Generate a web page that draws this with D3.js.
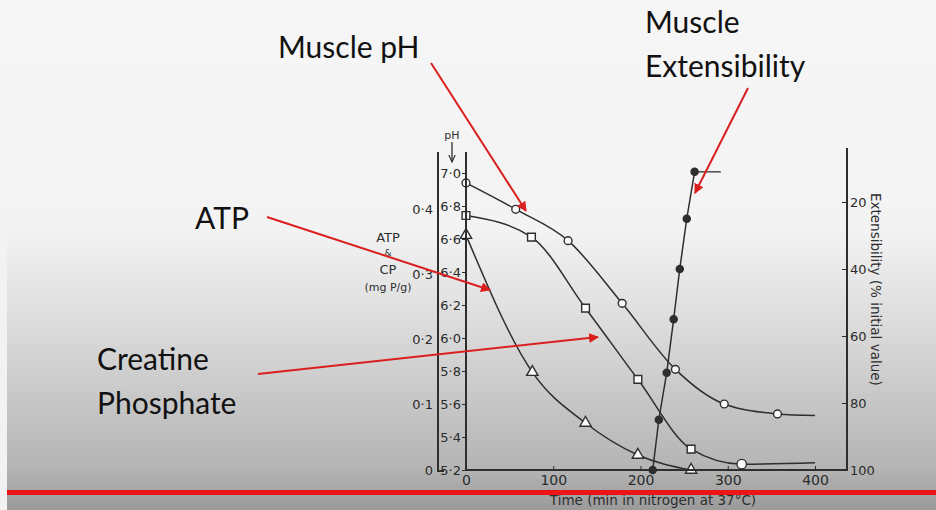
<!DOCTYPE html>
<html>
<head>
<meta charset="utf-8">
<script src="https://cdn.jsdelivr.net/npm/d3@7"></script>
<style>
  html, body { margin: 0; padding: 0; background: #f5f5f5; }
  svg { display: block; }
  .tick text { font-family: "DejaVu Sans", sans-serif; fill: #2b2b2b; }
  .tick line { stroke: #2b2b2b; }
</style>
</head>
<body>
<div id="container"></div>
<script>
// time (min) for each curve
const phTime = [0, 57, 117, 179, 240, 296, 357, 400];
const phValue = [6.94, 6.78, 6.59, 6.21, 5.81, 5.60, 5.54, 5.53];

const cpTime = [0, 75, 137, 197, 258, 316, 400];
const cpValue = [0.39, 0.357, 0.248, 0.139, 0.032, 0.009, 0.011];

const atpTime = [0, 76, 137, 197, 258];
const atpValue = [0.36, 0.15, 0.072, 0.023, 0.0];

const extTime = [214, 221, 230, 238, 245, 253, 262];
const extValue = [100, 85, 71, 55, 40, 25, 11];
const extStubEnd = 292;

const timeTicks = [0, 100, 200, 300, 400];
const phTicks = [5.2, 5.4, 5.6, 5.8, 6.0, 6.2, 6.4, 6.6, 6.8, 7.0];
const mgTicks = [0, 0.1, 0.2, 0.3, 0.4];
const extTicks = [20, 40, 60, 80, 100];

const notes = [
  { lines: ['Muscle pH'], x: 278, y: 58, from: [431, 63], to: [526, 211] },
  { lines: ['Muscle', 'Extensibility'], x: 645, y: 33, from: [748, 88], to: [695, 193] },
  { lines: ['ATP'], x: 195, y: 229, from: [267, 217], to: [490, 290] },
  { lines: ['Creatine', 'Phosphate'], x: 97, y: 370, from: [258, 374], to: [598, 337] }
];

const width = 936, height = 510;
const ink = '#2e2e2e';
const red = '#d9201f';

const svg = d3.select('#container').append('svg')
  .attr('width', width)
  .attr('height', height);

const defs = svg.append('defs');
const bg = defs.append('linearGradient')
  .attr('id', 'bg')
  .attr('x1', 0).attr('y1', 0).attr('x2', 0).attr('y2', 1);
[[0, '#f6f6f6'], [0.45, '#f3f3f3'], [0.62, '#dedede'], [0.92, '#b4b4b4'], [1, '#9a9a9a']]
  .forEach(s => bg.append('stop').attr('offset', s[0]).attr('stop-color', s[1]));

defs.append('marker')
  .attr('id', 'head')
  .attr('viewBox', '0 0 10 10')
  .attr('refX', 9).attr('refY', 5)
  .attr('markerWidth', 5).attr('markerHeight', 5)
  .attr('orient', 'auto')
  .append('path')
  .attr('d', 'M0,0 L10,5 L0,10 z')
  .attr('fill', red);

defs.append('marker')
  .attr('id', 'phArrow')
  .attr('viewBox', '0 0 10 10')
  .attr('refX', 9).attr('refY', 5)
  .attr('markerWidth', 6).attr('markerHeight', 6)
  .attr('orient', 'auto')
  .append('path')
  .attr('d', 'M0,1 L9,5 L0,9')
  .attr('fill', 'none')
  .attr('stroke', ink)
  .attr('stroke-width', 1.5);

svg.append('rect')
  .attr('width', width).attr('height', height)
  .attr('fill', 'url(#bg)');
svg.append('rect')
  .attr('x', 0).attr('y', 230)
  .attr('width', 7).attr('height', height - 230)
  .attr('fill', '#f2f2f2');

// scales
const x = d3.scaleLinear().domain([0, 400]).range([466, 815]);
const yPh = d3.scaleLinear().domain([5.2, 7.0]).range([470, 173]);
const yMg = d3.scaleLinear().domain([0, 0.4]).range([470, 209]);
const yExt = d3.scaleLinear().domain([0, 100]).range([135, 470]);

const dotFmt = d => d.toFixed(1).replace('.', '·');

// curves
const plot = svg.append('g');

function curve(times, values, yScale, kind) {
  const pts = times.map((t, i) => [x(t), yScale(values[i])]);
  plot.append('path')
    .attr('d', d3.line().curve(kind)(pts))
    .attr('fill', 'none')
    .attr('stroke', ink)
    .attr('stroke-width', 1.5);
  return pts;
}

function markers(pts, type, size, filled) {
  plot.selectAll(null)
    .data(pts)
    .enter().append('path')
    .attr('transform', d => 'translate(' + d[0] + ',' + d[1] + ')')
    .attr('d', d3.symbol().type(type).size(size))
    .attr('fill', filled ? ink : '#fbfbfb')
    .attr('stroke', ink)
    .attr('stroke-width', 1.4);
}

const phPts = curve(phTime, phValue, yPh, d3.curveMonotoneX);
markers(phPts.slice(0, -1), d3.symbolCircle, 48, false);

const cpPts = curve(cpTime, cpValue, yMg, d3.curveMonotoneX);
markers(cpPts.slice(0, -2), d3.symbolSquare, 60, false);
markers(cpPts.slice(-2, -1), d3.symbolCircle, 70, false);

const atpPts = curve(atpTime, atpValue, yMg, d3.curveMonotoneX);
markers(atpPts, d3.symbolTriangle, 55, false);

const extPts = curve(extTime, extValue, yExt, d3.curveLinear);
const last = extPts[extPts.length - 1];
plot.append('line')
  .attr('x1', last[0]).attr('x2', x(extStubEnd))
  .attr('y1', last[1]).attr('y2', last[1])
  .attr('stroke', ink).attr('stroke-width', 1.3);
markers(extPts, d3.symbolCircle, 40, true);

// axes
const axes = svg.append('g');

axes.append('path')
  .attr('d', 'M438,152V471H444')
  .attr('fill', 'none').attr('stroke', ink).attr('stroke-width', 2);
axes.append('path')
  .attr('d', 'M466,152V470H847V148')
  .attr('fill', 'none').attr('stroke', ink).attr('stroke-width', 2);

const phAxis = axes.append('g')
  .attr('transform', 'translate(466,0)')
  .call(d3.axisLeft(yPh).tickValues(phTicks).tickSize(4).tickPadding(1).tickFormat(dotFmt));
phAxis.select('.domain').remove();
phAxis.selectAll('text').attr('font-size', 13);

const mgAxis = axes.append('g')
  .attr('transform', 'translate(438,0)')
  .call(d3.axisLeft(yMg).tickValues(mgTicks).tickSize(0).tickPadding(5)
    .tickFormat(d => d === 0 ? '0' : dotFmt(d)));
mgAxis.select('.domain').remove();
mgAxis.selectAll('text').attr('font-size', 13);

const xAxis = axes.append('g')
  .attr('transform', 'translate(0,470)')
  .call(d3.axisBottom(x).tickValues(timeTicks).tickSize(-4).tickPadding(5));
xAxis.select('.domain').remove();
xAxis.selectAll('text').attr('font-size', 14);

const extAxis = axes.append('g')
  .attr('transform', 'translate(847,0)')
  .call(d3.axisRight(yExt).tickValues(extTicks).tickSize(-5).tickPadding(3));
extAxis.select('.domain').remove();
extAxis.selectAll('text').attr('font-size', 13);

// axis titles
axes.append('text')
  .attr('x', 452).attr('y', 139)
  .attr('text-anchor', 'middle')
  .attr('font-family', 'DejaVu Sans, sans-serif')
  .attr('font-size', 11)
  .attr('fill', ink)
  .text('pH');
axes.append('line')
  .attr('x1', 452).attr('x2', 452)
  .attr('y1', 142).attr('y2', 162)
  .attr('stroke', ink).attr('stroke-width', 1.3)
  .attr('marker-end', 'url(#phArrow)');

const mgTitle = axes.append('text')
  .attr('text-anchor', 'middle')
  .attr('font-family', 'DejaVu Sans, sans-serif')
  .attr('fill', ink);
[['ATP', 242, 13], ['&', 256, 9], ['CP', 274, 13], ['(mg P/g)', 291, 11]].forEach(r => {
  mgTitle.append('tspan').attr('x', 388).attr('y', r[1]).attr('font-size', r[2]).text(r[0]);
});

axes.append('text')
  .attr('transform', 'translate(871,193) rotate(90)')
  .attr('font-family', 'DejaVu Sans, sans-serif')
  .attr('font-size', 13.5)
  .attr('fill', ink)
  .text('Extensibility  (% initial value)');

axes.append('text')
  .attr('x', 653).attr('y', 505)
  .attr('text-anchor', 'middle')
  .attr('font-family', 'DejaVu Sans, sans-serif')
  .attr('font-size', 13.5)
  .attr('fill', ink)
  .text('Time  (min  in nitrogen at 37°C)');

// red rule across the bottom
svg.append('rect')
  .attr('x', 7).attr('y', 490)
  .attr('width', width - 7).attr('height', 5)
  .attr('fill', '#ec1515');

// annotations
const ann = svg.append('g');
notes.forEach(n => {
  const t = ann.append('text')
    .attr('font-family', 'Lato, sans-serif')
    .attr('font-size', 30)
    .attr('fill', '#111');
  n.lines.forEach((l, i) => {
    t.append('tspan').attr('x', n.x).attr('y', n.y + i * 44).text(l);
  });
  ann.append('line')
    .attr('x1', n.from[0]).attr('y1', n.from[1])
    .attr('x2', n.to[0]).attr('y2', n.to[1])
    .attr('stroke', red)
    .attr('stroke-width', 2)
    .attr('marker-end', 'url(#head)');
});
</script>
</body>
</html>
